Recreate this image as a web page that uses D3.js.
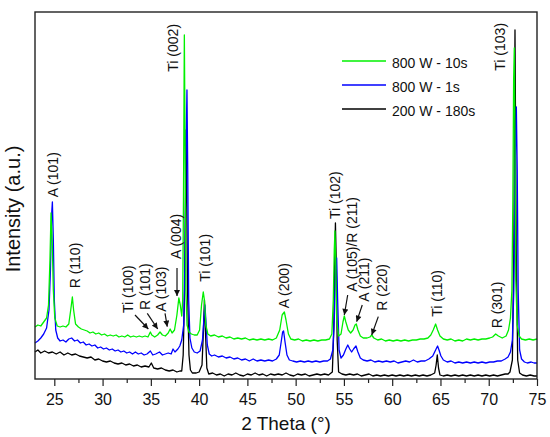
<!DOCTYPE html>
<html>
<head>
<meta charset="utf-8">
<script src="https://cdn.jsdelivr.net/npm/d3@7"></script>
<style>
  body { margin: 0; background: #fff; }
  svg text { font-family: "Liberation Sans", Arial, sans-serif; fill: #111; }
</style>
</head>
<body>
<div id="chart-area"></div>
<script>
// XRD patterns, [2 theta (deg), intensity (a.u.)]
const black180s = [
  [23.0,81],[23.3,87],[23.6,78],[24.0,84],[24.4,78],[24.8,81],[25.2,75],[25.6,81],[26.0,72],
  [26.4,78],[26.8,72],[27.2,75],[27.6,69],[28.0,66],[28.4,63],[28.8,66],[29.2,57],[29.6,60],
  [30.0,54],[30.4,51],[30.8,54],[31.2,48],[31.6,45],[32.0,48],[32.4,42],[32.8,45],[33.2,39],
  [33.6,42],[34.0,36],[34.4,39],[34.8,36],[35.05,48],[35.3,33],[35.7,30],[36.1,33],[36.5,27],
  [36.9,24],[37.3,27],[37.7,21],[38.0,24],[38.2,24],[38.35,72],[38.5,267],[38.65,747],
  [38.8,267],[38.95,72],[39.1,27],[39.3,18],[39.7,18],[40.0,21],[40.3,42],[40.45,147],
  [40.55,237],[40.65,147],[40.8,33],[41.0,15],[41.4,18],[41.8,12],[42.2,15],[42.6,9],
  [43.0,15],[43.4,12],[43.8,18],[44.2,12],[44.6,9],[45.0,15],[45.4,12],[45.8,18],[46.2,12],
  [46.6,15],[47.0,9],[47.4,15],[47.8,12],[48.2,15],[48.6,12],[49.0,18],[49.4,12],[49.8,9],
  [50.2,15],[50.6,12],[51.0,15],[51.4,9],[51.8,12],[52.2,15],[52.6,12],[53.0,15],[53.4,12],
  [53.8,21],[53.95,147],[54.05,357],[54.12,468],[54.2,357],[54.3,117],[54.45,21],[54.8,15],
  [55.2,12],[55.6,15],[56.0,12],[56.4,15],[56.8,9],[57.2,12],[57.6,15],[58.0,9],[58.4,12],
  [58.8,9],[59.2,12],[59.6,9],[60.0,12],[60.4,9],[60.8,12],[61.2,9],[61.6,12],[62.0,9],
  [62.4,12],[62.8,9],[63.2,12],[63.6,9],[64.0,12],[64.4,18],[64.55,42],[64.67,72],[64.8,33],
  [64.95,12],[65.3,9],[65.7,12],[66.1,9],[66.5,12],[66.9,9],[67.3,12],[67.7,9],[68.1,12],
  [68.5,9],[68.9,12],[69.3,9],[69.7,12],[70.1,9],[70.5,12],[70.9,9],[71.3,12],[71.7,15],
  [72.0,15],[72.2,21],[72.45,57],[72.6,387],[72.72,1047],[72.85,387],[73.0,57],[73.2,18],
  [73.5,12],[73.9,9],[74.3,12],[74.7,9],[75.0,9]
];

const blue1s = [
  [23.0,108],[23.3,114],[23.6,123],[23.9,135],[24.2,153],[24.45,207],[24.6,327],[24.72,492],
  [24.8,531],[24.9,417],[25.0,237],[25.15,147],[25.35,123],[25.6,114],[25.9,117],[26.2,111],
  [26.5,120],[26.8,123],[27.1,114],[27.4,117],[27.7,108],[28.0,111],[28.3,102],[28.6,105],
  [28.9,99],[29.2,102],[29.5,93],[29.8,96],[30.1,90],[30.4,93],[30.7,87],[31.0,90],[31.3,84],
  [31.6,87],[31.9,81],[32.2,84],[32.5,78],[32.8,81],[33.1,75],[33.4,81],[33.7,75],[34.0,78],
  [34.3,72],[34.6,75],[34.95,84],[35.2,72],[35.5,75],[35.9,81],[36.2,72],[36.5,75],[36.8,78],
  [37.1,75],[37.3,90],[37.5,81],[37.8,90],[38.0,99],[38.2,117],[38.4,162],[38.55,387],
  [38.65,687],[38.74,867],[38.82,627],[38.92,237],[39.05,123],[39.25,93],[39.5,81],[39.8,78],
  [40.1,84],[40.35,117],[40.5,183],[40.6,222],[40.7,177],[40.85,102],[41.05,75],[41.3,69],
  [41.6,72],[42.0,66],[42.4,69],[42.8,63],[43.2,66],[43.6,60],[44.0,63],[44.4,57],[44.8,60],
  [45.2,54],[45.6,60],[46.0,54],[46.4,57],[46.8,54],[47.2,57],[47.6,54],[48.0,60],[48.3,72],
  [48.5,111],[48.65,141],[48.75,144],[48.9,111],[49.1,72],[49.35,57],[49.7,54],[50.1,51],
  [50.5,54],[50.9,51],[51.3,54],[51.7,51],[52.1,54],[52.5,51],[52.9,54],[53.3,54],[53.6,60],
  [53.85,87],[54.0,177],[54.12,327],[54.25,363],[54.35,237],[54.5,87],[54.7,63],[54.95,72],
  [55.2,90],[55.4,102],[55.6,90],[55.8,81],[56.0,90],[56.25,99],[56.45,81],[56.7,63],[57.0,57],
  [57.4,54],[57.8,57],[58.2,51],[58.6,54],[59.0,51],[59.4,54],[59.8,51],[60.2,54],[60.6,48],
  [61.0,51],[61.4,54],[61.8,51],[62.2,57],[62.6,51],[63.0,54],[63.4,54],[63.8,60],[64.2,69],
  [64.45,84],[64.7,99],[64.85,87],[65.05,69],[65.3,57],[65.7,51],[66.1,54],[66.5,48],[66.9,51],
  [67.3,48],[67.7,51],[68.1,48],[68.5,51],[68.9,48],[69.3,51],[69.7,48],[70.1,51],[70.5,51],
  [70.9,54],[71.3,54],[71.7,60],[72.0,66],[72.25,81],[72.45,117],[72.6,267],[72.75,657],
  [72.86,816],[72.95,627],[73.05,267],[73.2,87],[73.4,60],[73.7,51],[74.0,48],[74.4,51],
  [74.7,48],[75.0,48]
];

const green10s = [
  [23.0,156],[23.3,162],[23.6,159],[23.9,171],[24.2,183],[24.4,222],[24.55,357],[24.66,498],
  [24.78,417],[24.9,267],[25.05,183],[25.3,159],[25.6,156],[25.9,159],[26.2,156],[26.5,165],
  [26.7,207],[26.87,246],[27.0,207],[27.2,165],[27.5,156],[27.8,150],[28.1,147],[28.4,144],
  [28.7,138],[29.0,141],[29.3,135],[29.6,138],[29.9,132],[30.2,135],[30.5,129],[30.8,132],
  [31.1,129],[31.4,132],[31.7,126],[32.0,129],[32.3,126],[32.6,132],[32.9,126],[33.2,129],
  [33.5,126],[33.8,129],[34.1,126],[34.4,129],[34.7,126],[34.95,141],[35.1,132],[35.4,126],
  [35.7,132],[35.95,141],[36.2,132],[36.5,129],[36.8,138],[37.0,150],[37.2,138],[37.45,147],
  [37.7,192],[37.9,243],[38.05,222],[38.2,189],[38.3,237],[38.38,537],[38.47,1032],[38.55,687],
  [38.63,267],[38.75,162],[38.95,141],[39.2,135],[39.5,132],[39.8,132],[40.05,147],[40.25,222],
  [40.43,261],[40.55,237],[40.7,162],[40.9,135],[41.2,129],[41.6,132],[42.0,126],[42.4,129],
  [42.8,123],[43.2,126],[43.6,120],[44.0,123],[44.4,120],[44.8,123],[45.2,117],[45.6,120],
  [46.0,117],[46.4,120],[46.8,117],[47.2,120],[47.6,117],[48.0,123],[48.35,147],[48.6,192],
  [48.83,201],[49.0,177],[49.25,135],[49.5,120],[49.9,117],[50.3,120],[50.7,114],[51.1,117],
  [51.5,114],[51.9,117],[52.3,114],[52.7,117],[53.1,117],[53.5,120],[53.75,135],[53.9,237],
  [54.0,387],[54.07,444],[54.15,357],[54.25,177],[54.45,129],[54.7,135],[54.9,171],[55.04,189],
  [55.2,171],[55.45,147],[55.7,138],[55.95,147],[56.15,162],[56.28,165],[56.45,147],[56.7,129],
  [57.0,123],[57.4,123],[57.7,126],[57.88,132],[58.1,123],[58.5,117],[58.9,120],[59.3,114],
  [59.7,117],[60.1,114],[60.5,117],[60.9,114],[61.3,117],[61.7,114],[62.1,117],[62.5,117],
  [62.9,120],[63.3,120],[63.7,123],[64.0,132],[64.25,147],[64.5,165],[64.7,147],[64.95,129],
  [65.3,120],[65.7,117],[66.1,120],[66.5,114],[66.9,117],[67.3,114],[67.7,120],[68.1,117],
  [68.5,120],[68.9,117],[69.3,120],[69.7,120],[70.1,123],[70.4,126],[70.72,135],[71.0,129],
  [71.4,123],[71.8,129],[72.05,147],[72.25,183],[72.4,267],[72.5,537],[72.58,897],[72.65,993],
  [72.72,687],[72.8,297],[72.95,162],[73.15,129],[73.4,120],[73.8,117],[74.2,120],[74.6,117],
  [75.0,120]
];

const seriesNames = ["800 W - 10s", "800 W - 1s", "200 W - 180s"];
const seriesColors = ["#00f000", "#0000ff", "#000000"];

const xTicks = [25, 30, 35, 40, 45, 50, 55, 60, 65, 70, 75];
const xMinorTicks = [27.5, 32.5, 37.5, 42.5, 47.5, 52.5, 57.5, 62.5, 67.5, 72.5];

// peak labels: [text, 2 theta, intensity at text start]
const peakLabels = [
  ["A (101)", 25.35, 545], ["R (110)", 27.69, 272], ["Ti (100)", 33.15, 198],
  ["R (101)", 34.94, 207], ["A (103)", 36.52, 202], ["A (004)", 38.12, 360],
  ["Ti (002)", 37.81, 922], ["Ti (101)", 41.13, 292], ["A (200)", 49.31, 212],
  ["Ti (102)", 54.59, 480], ["A (105)/R (211)", 56.35, 262], ["A (211)", 57.6, 232],
  ["R (220)", 59.46, 205], ["Ti (110)", 65.16, 187], ["R (301)", 71.37, 152],
  ["Ti (103)", 71.68, 925]
];

// arrows: [from theta, from intensity, to theta, to intensity]
const peakArrows = [
  [33.36, 192, 34.74, 150], [34.63, 197, 35.71, 150], [36.47, 197, 36.70, 157],
  [37.71, 333, 37.71, 249], [55.39, 252, 55.04, 192], [56.90, 222, 56.32, 172],
  [58.56, 187, 57.88, 132]
];

const svgWidth = 550, svgHeight = 437;
const margin = {left: 35, right: 13, top: 12, bottom: 58};
const areaWidth = svgWidth - margin.left - margin.right;
const areaHeight = svgHeight - margin.top - margin.bottom;

const svg = d3.select("#chart-area")
  .append("svg")
  .attr("width", svgWidth)
  .attr("height", svgHeight);

const area = svg.append("g")
  .attr("transform", `translate(${margin.left}, ${margin.top})`);

const x = d3.scaleLinear().domain([23, 75]).range([0, areaWidth]);
const y = d3.scaleLinear().domain([0, 1101]).range([areaHeight, 0]);

svg.append("defs").append("marker")
  .attr("id", "head")
  .attr("viewBox", "0 0 10 10")
  .attr("refX", 10).attr("refY", 5)
  .attr("markerUnits", "userSpaceOnUse")
  .attr("markerWidth", 7).attr("markerHeight", 6)
  .attr("orient", "auto")
  .append("path")
  .attr("d", "M0,0 L10,5 L0,10 z")
  .attr("fill", "#111");

const line = d3.line()
  .x(d => x(d[0]))
  .y(d => y(d[1]));

// draw black first, green on top
[[black180s, 2], [blue1s, 1], [green10s, 0]].forEach(([data, i]) => {
  area.append("path")
    .attr("fill", "none")
    .attr("stroke", seriesColors[i])
    .attr("stroke-width", 1.3)
    .attr("stroke-linejoin", "round")
    .attr("d", line(data));
});

// axes
const xAxisGroup = area.append("g")
  .attr("transform", `translate(0, ${areaHeight})`)
  .call(d3.axisBottom(x).tickValues(xTicks).tickSize(7).tickPadding(8));
xAxisGroup.selectAll("text").attr("font-size", "16px").attr("fill", "#111");

area.append("g")
  .attr("transform", `translate(0, ${areaHeight})`)
  .call(d3.axisBottom(x).tickValues(xMinorTicks).tickSize(4).tickFormat(""));

area.selectAll(".domain").remove();
area.selectAll(".tick line").attr("stroke", "#222").attr("stroke-width", 1.2);

area.append("rect")
  .attr("width", areaWidth)
  .attr("height", areaHeight)
  .attr("fill", "none")
  .attr("stroke", "#222")
  .attr("stroke-width", 1.4);

// labels
area.append("text")
  .attr("x", areaWidth / 2)
  .attr("y", areaHeight + 51)
  .attr("font-size", "19px")
  .attr("text-anchor", "middle")
  .text("2 Theta (°)");

svg.append("text")
  .attr("transform", "translate(20, 209) rotate(-90)")
  .attr("font-size", "20px")
  .attr("text-anchor", "middle")
  .text("Intensity (a.u.)");

area.selectAll(".peak-label")
  .data(peakLabels)
  .join("text")
  .attr("class", "peak-label")
  .attr("transform", d => `translate(${x(d[1])}, ${y(d[2])}) rotate(-90)`)
  .attr("font-size", "14px")
  .text(d => d[0]);

area.selectAll(".peak-arrow")
  .data(peakArrows)
  .join("line")
  .attr("class", "peak-arrow")
  .attr("x1", d => x(d[0])).attr("y1", d => y(d[1]))
  .attr("x2", d => x(d[2])).attr("y2", d => y(d[3]))
  .attr("stroke", "#111")
  .attr("stroke-width", 1.2)
  .attr("marker-end", "url(#head)");

// legend
const legend = svg.append("g").attr("transform", "translate(342, 61)");
seriesNames.forEach((name, i) => {
  const row = legend.append("g").attr("transform", `translate(0, ${i * 24})`);
  row.append("line")
    .attr("x1", 0).attr("x2", 44)
    .attr("stroke", seriesColors[i])
    .attr("stroke-width", 1.5);
  row.append("text")
    .attr("x", 50)
    .attr("y", 6.5)
    .attr("font-size", "14px")
    .text(name);
});
</script>
</body>
</html>
